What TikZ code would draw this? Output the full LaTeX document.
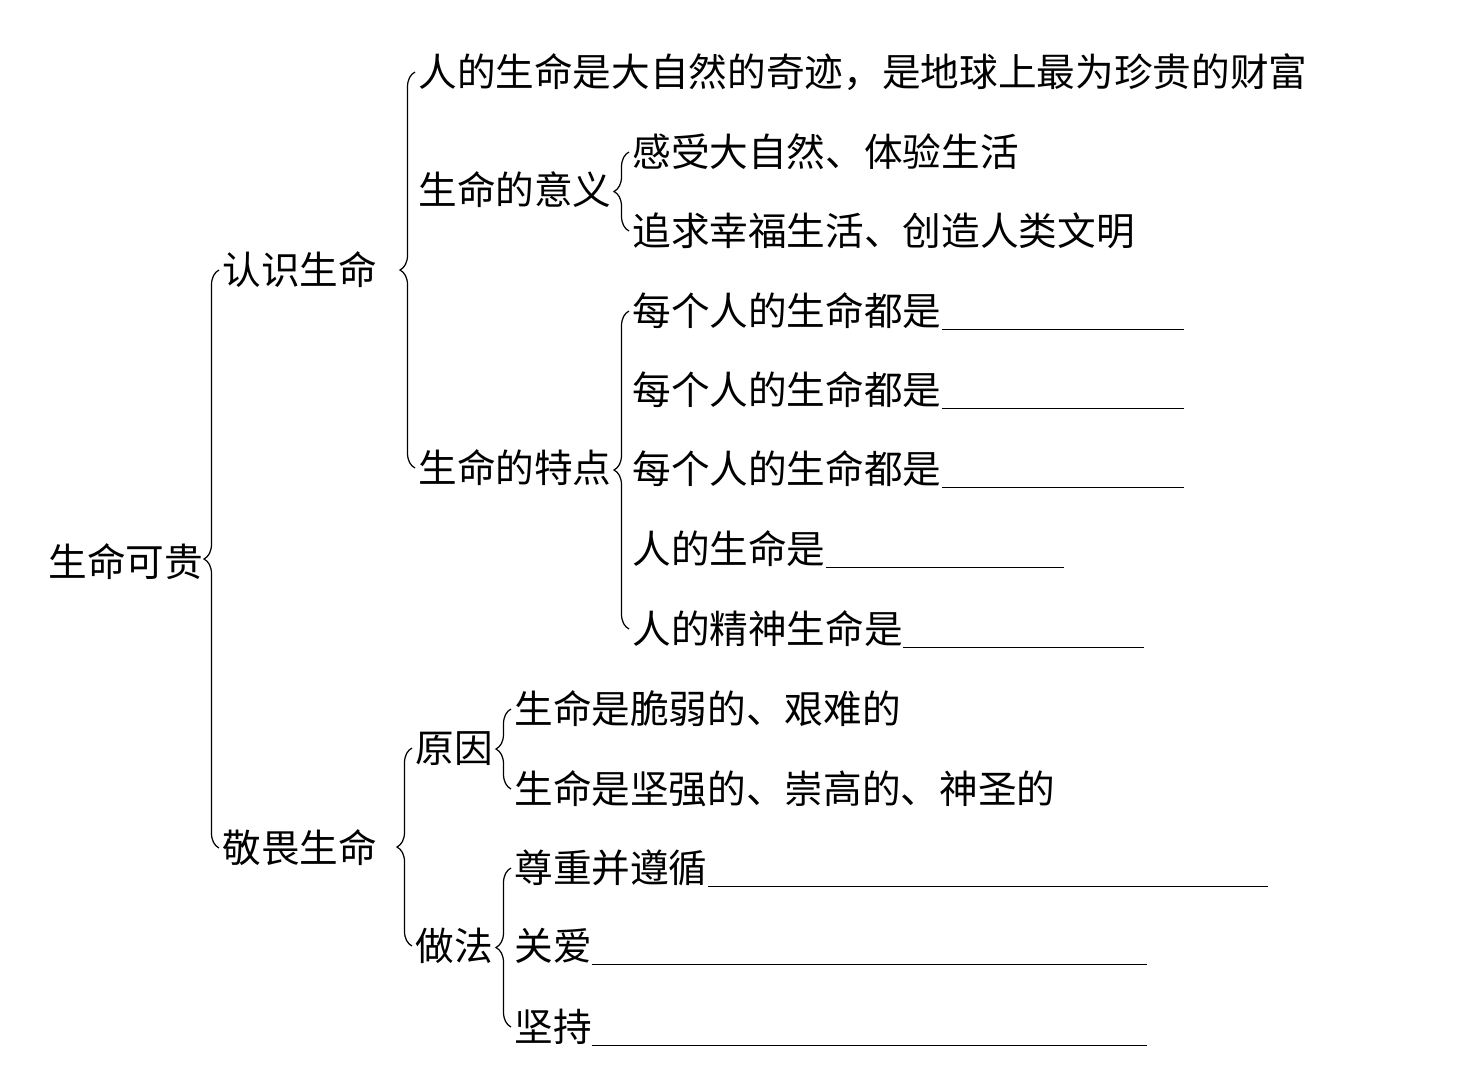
\documentclass[tikz,border=0pt]{standalone}
\usepackage{fontspec}
\setmainfont{Noto Sans CJK SC}
\usepackage{tikz}
\usetikzlibrary{decorations.pathreplacing,calc}
\newcommand{\blank}[1]{\rule[-0.1em]{#1}{0.6pt}}

\begin{document}
\begin{tikzpicture}[
  x=0.02cm, y=-0.02cm,
  item/.style={anchor=west, inner sep=0pt, text height=19.4pt, text depth=2.6pt,
    font=\fontsize{22}{26}\selectfont},
  brc/.style={decorate, decoration={brace, amplitude=0.3cm}, line width=0.7pt}
]
\fill[white] (0,0) rectangle (1483,1086);
\node[item] (root) at (48,562) {生命可贵};
\node[item] (know) at (222,270) {认识生命};
\node[item] (awe) at (222,848) {敬畏生命};
\node[item] (k1) at (418,72) {人的生命是大自然的奇迹，是地球上最为珍贵的财富};
\node[item] (mean) at (418,190) {生命的意义};
\node[item] (feat) at (418,468) {生命的特点};
\node[item] (m1) at (632,152) {感受大自然、体验生活};
\node[item] (m2) at (632,231) {追求幸福生活、创造人类文明};
\node[item] (f1) at (632,311) {每个人的生命都是\blank{4.84cm}};
\node[item] (f2) at (632,390) {每个人的生命都是\blank{4.84cm}};
\node[item] (f3) at (632,469) {每个人的生命都是\blank{4.84cm}};
\node[item] (f4) at (632,549) {人的生命是\blank{4.76cm}};
\node[item] (f5) at (632,629) {人的精神生命是\blank{4.82cm}};
\node[item] (why) at (415,748) {原因};
\node[item] (how) at (415,946) {做法};
\node[item] (w1) at (514,709) {生命是脆弱的、艰难的};
\node[item] (w2) at (514,789) {生命是坚强的、崇高的、神圣的};
\node[item] (h1) at (514,868) {尊重并遵循\blank{11.2cm}};
\node[item] (h2) at (514,946) {关爱\blank{11.1cm}};
\node[item] (h3) at (514,1027) {坚持\blank{11.1cm}};
\draw[brc] ($(awe.west)+(-3,0)$) -- ($(know.west)+(-3,0)$);
\draw[brc] ($(feat.west)+(-3,0)$) -- ($(k1.west)+(-3,0)$);
\draw[brc] ($(m2.west)+(-3,0)$) -- ($(m1.west)+(-3,0)$);
\draw[brc] ($(f5.west)+(-3,0)$) -- ($(f1.west)+(-3,0)$);
\draw[brc] ($(how.west)+(-3,0)$) -- ($(why.west)+(-3,0)$);
\draw[brc] ($(w2.west)+(-3,0)$) -- ($(w1.west)+(-3,0)$);
\draw[brc] ($(h3.west)+(-3,0)$) -- ($(h1.west)+(-3,0)$);
\end{tikzpicture}
\end{document}
